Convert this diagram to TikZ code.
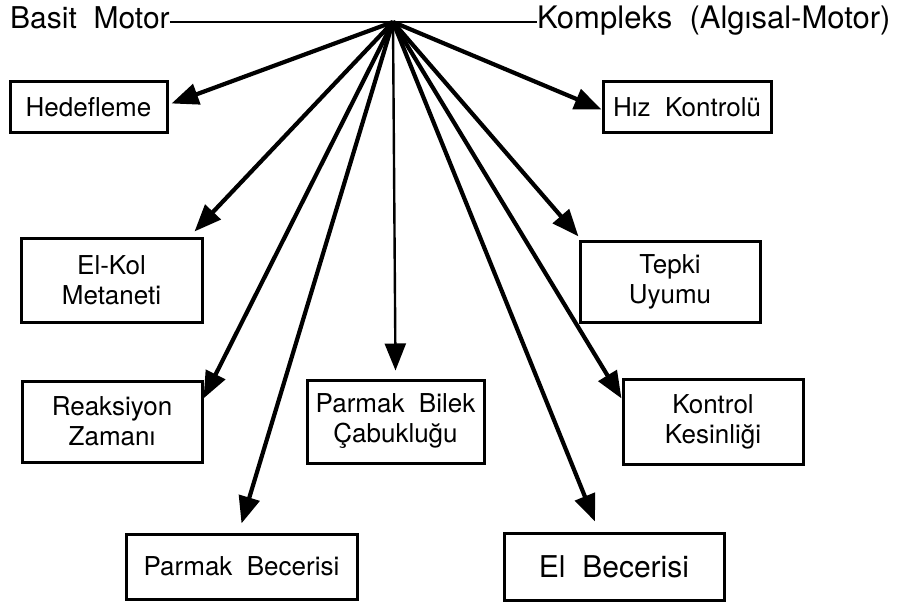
\documentclass[tikz,border=0pt]{standalone}
\usepackage{fontspec}
\setmainfont{TeX Gyre Heros}
\usetikzlibrary{arrows.meta}

\begin{document}
\begin{tikzpicture}[x=1pt, y=-1pt, >={Triangle[length=27pt,width=21pt]}]
            \useasboundingbox (0,0) rectangle (898,607);
            \tikzstyle{box}=[draw, line width=3pt, inner sep=0, align=center, font=\fontsize{26}{30}\selectfont]
            \tikzstyle{arr}=[->, line width=4.2pt]
            \tikzstyle{title}=[inner sep=0, font=\fontsize{30}{36}\selectfont]

            \node (basit) [title, anchor=base west] at (10,29) {Basit\ \ Motor};
            \node (kompleks) [title, anchor=base west, font=\fontsize{31}{36}\selectfont] at (537,29) {Kompleks\ \ (Algısal-Motor)};
            \coordinate (hub) at (393,22);
            \draw[line width=2.8pt] (basit.east |- hub) -- (hub) -- (kompleks.west |- hub);

            \node (hed) [box, minimum width=157, minimum height=51] at (88.5,107.5) {Hedefleme};
            \node (hiz) [box, minimum width=168, minimum height=51] at (687,107.5) {Hız\ \ Kontrolü};
            \node (elkol) [box, minimum width=181, minimum height=83] at (111.5,280.5) {El-Kol\\Metaneti};
            \node (tepki) [box, minimum width=180, minimum height=80] at (670,282) {Tepki\\Uyumu};
            \node (reak) [box, minimum width=180, minimum height=81] at (112,421.5) {Reaksiyon\\Zamanı};
            \node (pbil) [box, minimum width=177, minimum height=83] at (395.5,421.5) {Parmak\ \ Bilek\\Çabukluğu};
            \node (kontrol) [box, minimum width=180, minimum height=85] at (713,421.5) {Kontrol\\Kesinliği};
            \node (pbec) [box, minimum width=231, minimum height=65] at (241.5,566.5) {Parmak\ \ Becerisi};
            \node (elbec) [box, minimum width=220, minimum height=67, font=\fontsize{30}{36}\selectfont] at (614,566.5) {El\ \ Becerisi};

            \draw[arr] (hub) -- ([xshift=3pt,yshift=4pt]hed.east);
            \draw[arr] (hub) -- ([xshift=-9pt,yshift=6pt]elkol.north east);
            \draw[arr] (hub) -- ([yshift=-19pt]reak.north east);
            \draw[arr] (hub) -- ([yshift=9pt]pbec.north);
            \draw[arr, line width=2.4pt] (hub) -- ([yshift=8pt]pbil.north);
            \draw[arr] (hub) -- ([xshift=-19pt,yshift=10pt]elbec.north);
            \draw[arr] (hub) -- ([yshift=-21pt]kontrol.north west);
            \draw[arr] (hub) -- ([yshift=4pt]tepki.north west);
            \draw[arr] (hub) -- ([yshift=-2pt]hiz.west);
        \end{tikzpicture}
\end{document}
